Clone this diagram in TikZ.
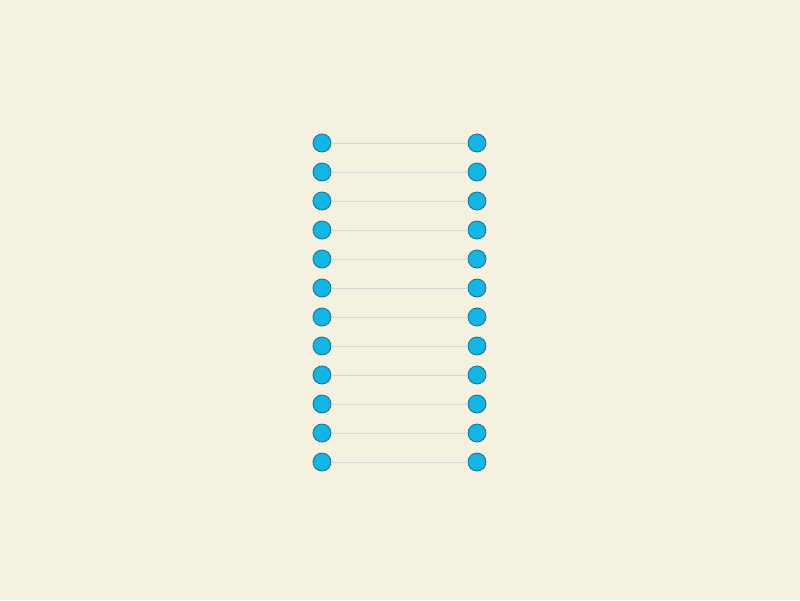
\documentclass[tikz,border=0pt]{standalone}
\definecolor{bg}{HTML}{F4F1E1}
\definecolor{dotfill}{HTML}{12B5E3}
\definecolor{dotedge}{HTML}{1F6F86}
\definecolor{rung}{HTML}{D6D6D6}
\tikzset{dot/.style={circle,fill=dotfill,draw=dotedge,line width=0.8pt,minimum size=18pt,inner sep=0pt},
rungline/.style={draw=rung,line width=1pt}}
\begin{document}
\begin{tikzpicture}[x=1pt,y=-1pt]
\fill[bg] (0,0) rectangle (800,600);
\useasboundingbox (0,0) rectangle (800,600);
\foreach \i in {0,...,11}{
  \pgfmathsetmacro{\yy}{143+29*\i}
  \node[dot] (l\i) at (322,\yy) {};
  \node[dot] (r\i) at (477,\yy) {};
  \draw[rungline] (l\i) -- (r\i);
}
\end{tikzpicture}
\end{document}
